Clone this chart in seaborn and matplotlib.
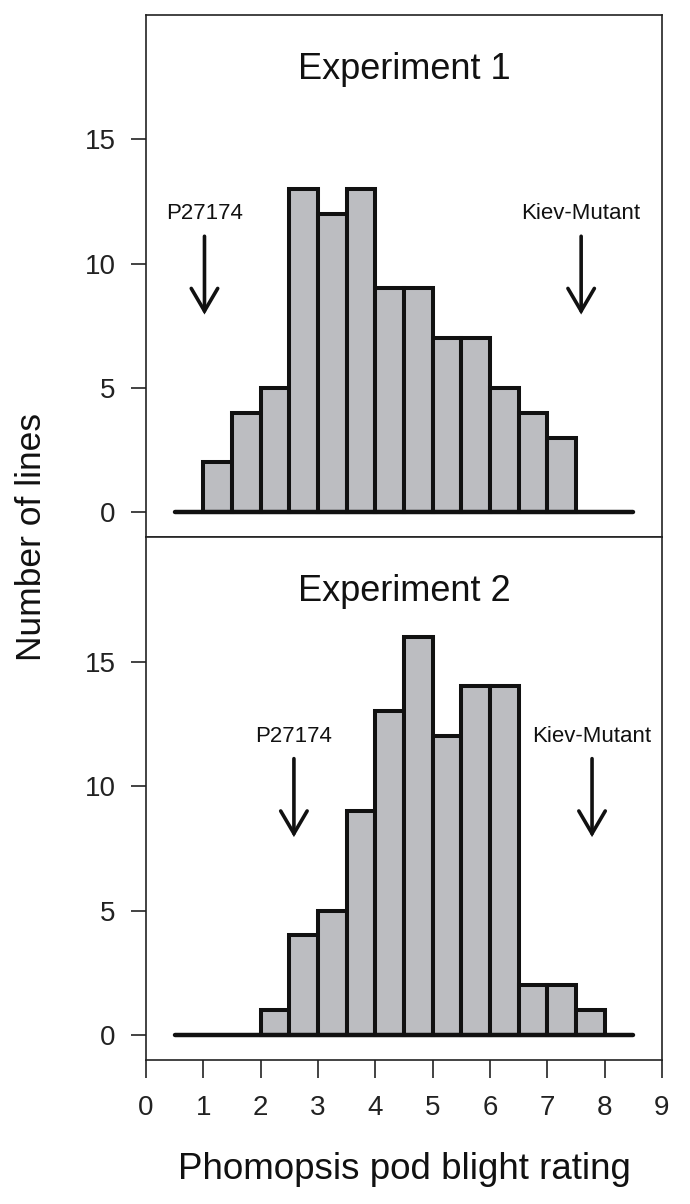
import numpy as np
import pandas as pd
import matplotlib
matplotlib.use('Agg')
import matplotlib.pyplot as plt
import seaborn as sns

# Bin centres (bin width 0.5) and counts
centres_1 = [1.25, 1.75, 2.25, 2.75, 3.25, 3.75, 4.25, 4.75, 5.25, 5.75, 6.25, 6.75, 7.25]
counts_1 = [2, 4, 5, 13, 12, 13, 9, 9, 7, 7, 5, 4, 3]

centres_2 = [2.25, 2.75, 3.25, 3.75, 4.25, 4.75, 5.25, 5.75, 6.25, 6.75, 7.25, 7.75]
counts_2 = [1, 4, 5, 9, 13, 16, 12, 14, 14, 2, 2, 1]

titles = ['Experiment 1', 'Experiment 2']
parent_labels = ['P27174', 'Kiev-Mutant']
parent_x_1 = [1.02, 7.59]
parent_x_2 = [2.58, 7.78]

sns.set_style('white')
plt.rcParams['font.family'] = ['Liberation Sans', 'DejaVu Sans']

fig = plt.figure(figsize=(6.9, 12.04), dpi=100)
left, width = 0.2116, 0.7478
ax1 = fig.add_axes([left, 0.554, width, 0.4335])
ax2 = fig.add_axes([left, 0.1196, width, 0.4344], sharex=ax1)

bar_color = '#bcbdc1'
edge = '#111111'
panels = [
    (ax1, centres_1, counts_1, titles[0], parent_x_1),
    (ax2, centres_2, counts_2, titles[1], parent_x_2),
]

for ax, centres, counts, title, px in panels:
    df = pd.DataFrame({'rating': centres, 'n': counts})
    sns.histplot(data=df, x='rating', weights='n', binwidth=0.5,
                 binrange=(min(centres) - 0.25, max(centres) + 0.25),
                 color=bar_color, alpha=1, edgecolor=edge, linewidth=2.9,
                 ax=ax)
    # baseline
    ax.plot([0.5, 8.5], [0, 0], color=edge, lw=3.2, solid_capstyle='round', zorder=3)
    ax.text(4.5, 17.8, title, ha='center', va='center', fontsize=26, color='#111111')
    for lab, x in zip(parent_labels, px):
        ax.text(x, 12.0, lab, ha='center', va='center', fontsize=16, color='#111111')
        ax.annotate('', xy=(x, 7.95), xytext=(x, 11.1),
                    arrowprops=dict(arrowstyle='->,head_length=0.58,head_width=0.34',
                                    lw=2.6, color=edge, mutation_scale=28,
                                    shrinkA=0, shrinkB=0, joinstyle='miter'))
    ax.set_ylim(-1, 20)
    ax.set_xlim(0, 9)
    ax.set_yticks([0, 5, 10, 15])
    ax.set_ylabel('')
    ax.set_xlabel('')
    for s in ax.spines.values():
        s.set_visible(True)
        s.set_color('#222222')
        s.set_linewidth(1.2)
    ax.tick_params(axis='y', left=True, direction='out', length=11, width=1.2,
                   labelsize=20, colors='#222222', pad=11)

ax1.tick_params(axis='x', bottom=False, labelbottom=False)
ax2.set_xticks(range(0, 10))
ax2.tick_params(axis='x', bottom=True, direction='out', length=13, width=1.2,
                labelsize=20, colors='#222222', pad=12.5)

fig.text(0.045, 0.554, 'Number of lines', rotation=90, ha='center', va='center',
         fontsize=25.5, color='#111111')
fig.text(left + width / 2, 0.029, 'Phomopsis pod blight rating', ha='center',
         va='center', fontsize=26.5, color='#111111')

fig.savefig('out.png', dpi=100)
